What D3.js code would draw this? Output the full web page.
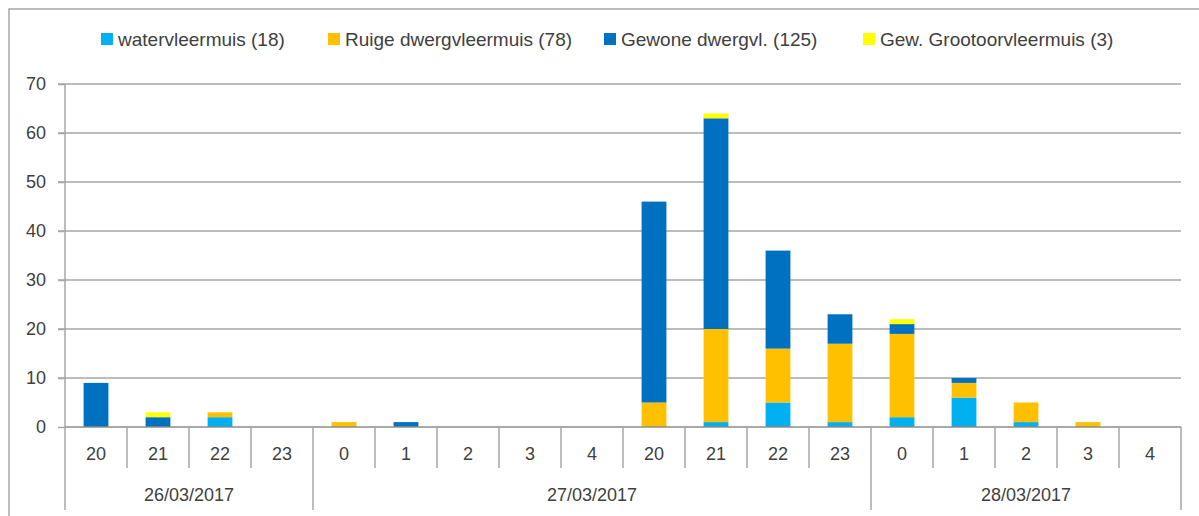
<!DOCTYPE html>
<html>
<head>
<meta charset="utf-8">
<script src="https://cdn.jsdelivr.net/npm/d3@7"></script>
<style>
  body { margin: 0; background: #fff; }
  svg { display: block; font-family: "Liberation Sans", Arial, sans-serif; }
</style>
</head>
<body>
<svg id="chart" width="1199" height="516"></svg>
<script>
// categorieën: uur + datum
const hours = ["20", "21", "22", "23", "0", "1", "2", "3", "4", "20", "21", "22", "23", "0", "1", "2", "3", "4"];
const days = ["26/03/2017", "27/03/2017", "28/03/2017"];
const dayOfHour = [0, 0, 0, 0, 1, 1, 1, 1, 1, 1, 1, 1, 1, 2, 2, 2, 2, 2];

// aantallen per soort
const water = [0, 0, 2, 0, 0, 0, 0, 0, 0, 0, 1, 5, 1, 2, 6, 1, 0, 0];
const ruige = [0, 0, 1, 0, 1, 0, 0, 0, 0, 5, 19, 11, 16, 17, 3, 4, 1, 0];
const gewone = [9, 2, 0, 0, 0, 1, 0, 0, 0, 41, 43, 20, 6, 2, 1, 0, 0, 0];
const grootoor = [0, 1, 0, 0, 0, 0, 0, 0, 0, 0, 1, 0, 0, 1, 0, 0, 0, 0];

const seriesNames = ["watervleermuis (18)", "Ruige dwergvleermuis (78)", "Gewone dwergvl. (125)", "Gew. Grootoorvleermuis (3)"];
const seriesColors = ["#00b0f0", "#ffc000", "#0070c0", "#ffff00"];
const yTicks = [0, 10, 20, 30, 40, 50, 60, 70];

const svg = d3.select("#chart");
const plotL = 65, plotR = 1181, plotT = 84, plotB = 427;
const textColor = "#404040";

// kader
svg.append("path")
  .attr("d", "M9,516 V9 H1199")
  .attr("fill", "none")
  .attr("stroke", "#a6a6a6")
  .attr("stroke-width", 1.5);

const idx = d3.range(hours.length);
const x = d3.scaleBand().domain(idx).range([plotL, plotR]).padding(0);
const y = d3.scaleLinear().domain([0, 70]).range([plotB, plotT]);

// rasterlijnen
svg.append("g").selectAll("line").data(yTicks.filter(d => d > 0)).join("line")
  .attr("x1", plotL - 7).attr("x2", plotR)
  .attr("y1", d => y(d)).attr("y2", d => y(d))
  .attr("stroke", "#a6a6a6").attr("stroke-width", 1.5);

// y-as
const yAxis = svg.append("g").attr("transform", `translate(${plotL},0)`)
  .call(d3.axisLeft(y).tickValues(yTicks).tickSize(7).tickPadding(12));
yAxis.select(".domain").remove();
yAxis.selectAll("line").attr("stroke", "#a6a6a6").attr("stroke-width", 1.5);
yAxis.selectAll("text").attr("font-size", 18).attr("fill", textColor)
  .attr("font-family", "Liberation Sans, Arial, sans-serif");

// gestapelde data
const table = idx.map(i => ({ i, water: water[i], ruige: ruige[i], gewone: gewone[i], grootoor: grootoor[i] }));
const stack = d3.stack().keys(["water", "ruige", "gewone", "grootoor"])(table);

const bw = x.bandwidth() * 0.4;
svg.append("g").selectAll("g").data(stack).join("g")
  .attr("fill", (d, k) => seriesColors[k])
  .selectAll("rect").data(d => d.filter(p => p[1] > p[0])).join("rect")
  .attr("x", d => x(d.data.i) + (x.bandwidth() - bw) / 2)
  .attr("width", bw)
  .attr("y", d => y(d[1]))
  .attr("height", d => y(d[0]) - y(d[1]));

// x-as
svg.append("line")
  .attr("x1", plotL).attr("x2", plotR).attr("y1", plotB).attr("y2", plotB)
  .attr("stroke", "#8c8c8c").attr("stroke-width", 1.5);

// scheidingslijnen tussen uren
const axisG = svg.append("g").attr("stroke", "#a6a6a6").attr("stroke-width", 1.5);
d3.range(1, hours.length).forEach(i => {
  const isDay = dayOfHour[i] !== dayOfHour[i - 1];
  axisG.append("line")
    .attr("x1", x(i)).attr("x2", x(i))
    .attr("y1", plotB).attr("y2", isDay ? 510 : 468);
});
axisG.append("line").attr("x1", plotL).attr("x2", plotL).attr("y1", plotT).attr("y2", 510);
axisG.append("line").attr("x1", plotR).attr("x2", plotR).attr("y1", plotB).attr("y2", 510);

// uurlabels
svg.append("g").selectAll("text").data(idx).join("text")
  .attr("x", i => x(i) + x.bandwidth() / 2)
  .attr("y", 460)
  .attr("text-anchor", "middle")
  .attr("font-size", 18).attr("fill", textColor)
  .text(i => hours[i]);

// datumlabels
svg.append("g").selectAll("text").data(days).join("text")
  .attr("x", (d, k) => {
    const members = idx.filter(i => dayOfHour[i] === k);
    return (x(members[0]) + x(members[members.length - 1]) + x.bandwidth()) / 2;
  })
  .attr("y", 501)
  .attr("text-anchor", "middle")
  .attr("font-size", 18).attr("fill", textColor)
  .text(d => d);

// legenda
const legendX = [101, 328, 604, 863];
const legend = svg.append("g").selectAll("g").data(seriesNames).join("g")
  .attr("transform", (d, k) => `translate(${legendX[k]},33)`);
legend.append("rect").attr("width", 12).attr("height", 12)
  .attr("fill", (d, k) => seriesColors[k]);
legend.append("text")
  .attr("x", 17).attr("y", 13)
  .attr("font-size", 19).attr("fill", textColor)
  .text(d => d);
</script>
</body>
</html>
